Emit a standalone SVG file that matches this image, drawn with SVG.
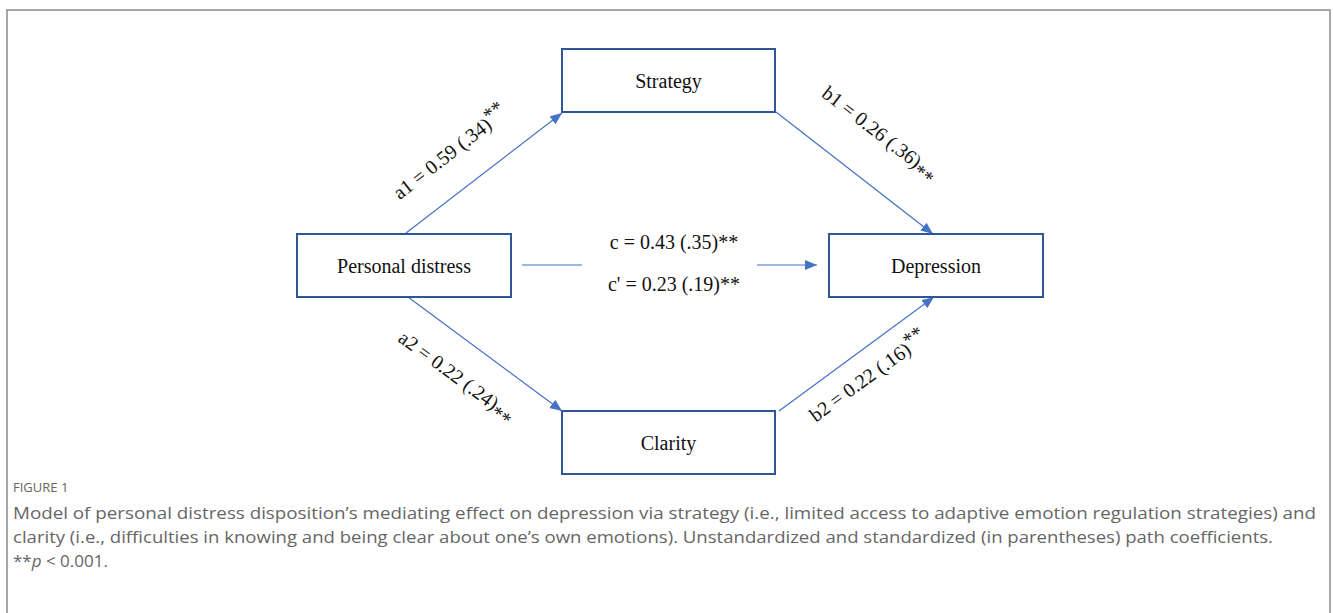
<svg xmlns="http://www.w3.org/2000/svg" width="1333" height="613" viewBox="0 0 1333 613">
<style>
.box{fill:#fff;stroke:#2f5597;stroke-width:2}
.lbl{font-family:"Liberation Serif","Times New Roman",serif;font-size:20px;fill:#111;text-anchor:middle}
.path{stroke:#4472c4;stroke-width:1.2;fill:none}
.cap{font-family:"Open Sans","Noto Sans",sans-serif;fill:#666}
</style>
<defs>
<marker id="ah" markerUnits="userSpaceOnUse" markerWidth="13" markerHeight="11" refX="12" refY="5" orient="auto">
<path d="M0,0 L12,5 L0,10 z" fill="#4472c4"/>
</marker>
</defs>
<rect x="0" y="0" width="1333" height="613" fill="#fff"/>
<path d="M7,620 V10 H1330 V620" fill="none" stroke="#8a8a8a" stroke-width="1.5"/>

<g id="connectors">
<line class="path" x1="406" y1="233" x2="562" y2="113" marker-end="url(#ah)"/>
<line class="path" x1="776" y1="112" x2="933" y2="234" marker-end="url(#ah)"/>
<line class="path" x1="408" y1="297" x2="562" y2="411" marker-end="url(#ah)"/>
<line class="path" x1="779" y1="411" x2="934" y2="297" marker-end="url(#ah)"/>
<line class="path" x1="522" y1="265" x2="582" y2="265"/>
<line class="path" x1="757" y1="265" x2="817" y2="265" marker-end="url(#ah)"/>
<text class="lbl" x="450" y="159" transform="rotate(-38 450 152)">a1 = 0.59 (.34)<tspan dy="-6">**</tspan></text>
<text class="lbl" x="880" y="140" transform="rotate(37.8 880 133)">b1 = 0.26 (.36)<tspan dy="6">**</tspan></text>
<text class="lbl" x="457" y="383" transform="rotate(36.3 457 376)">a2 = 0.22 (.24)<tspan dy="6">**</tspan></text>
<text class="lbl" x="868" y="383" transform="rotate(-36 868 376)">b2 = 0.22 (.16)<tspan dy="-6">**</tspan></text>
<text class="lbl" x="674" y="249">c = 0.43 (.35)**</text>
<text class="lbl" x="674" y="291">c' = 0.23 (.19)**</text>
</g>

<g id="strategy">
<rect class="box" x="562" y="49" width="213" height="63"/>
<text class="lbl" x="668.5" y="88">Strategy</text>
</g>
<g id="personal-distress">
<rect class="box" x="297" y="234" width="214" height="63"/>
<text class="lbl" x="404" y="273">Personal distress</text>
</g>
<g id="depression">
<rect class="box" x="829" y="234" width="214" height="63"/>
<text class="lbl" x="936" y="273">Depression</text>
</g>
<g id="clarity">
<rect class="box" x="562" y="411" width="213" height="63"/>
<text class="lbl" x="668.5" y="450">Clarity</text>
</g>

<g id="caption">
<text class="cap" x="13" y="492" font-size="13" fill="#777">FIGURE 1</text>
<text class="cap" x="13" y="519" font-size="17" textLength="1303" lengthAdjust="spacingAndGlyphs">Model of personal distress disposition’s mediating effect on depression via strategy (i.e., limited access to adaptive emotion regulation strategies) and</text>
<text class="cap" x="13" y="543" font-size="17" textLength="1260" lengthAdjust="spacingAndGlyphs">clarity (i.e., difficulties in knowing and being clear about one’s own emotions). Unstandardized and standardized (in parentheses) path coefficients.</text>
<text class="cap" x="13" y="567" font-size="17">**<tspan font-style="italic">p</tspan> &lt; 0.001.</text>
</g>
</svg>
